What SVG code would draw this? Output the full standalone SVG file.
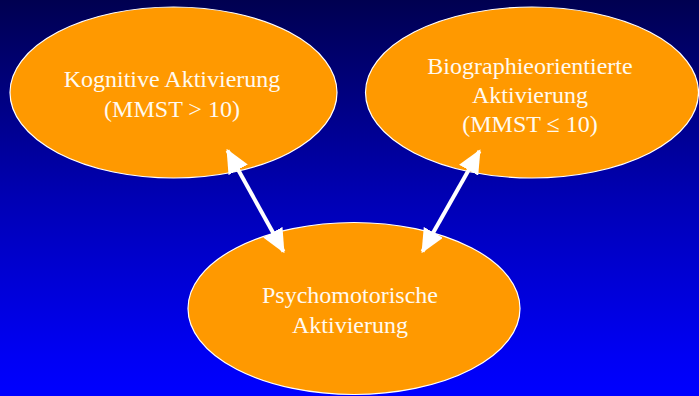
<svg xmlns="http://www.w3.org/2000/svg" width="699" height="396" viewBox="0 0 699 396">
<defs>
<linearGradient id="bg" x1="0" y1="0" x2="0" y2="1">
<stop offset="0" stop-color="#000050"/>
<stop offset="0.5" stop-color="#0000b4"/>
<stop offset="0.9" stop-color="#0000f4"/>
<stop offset="1" stop-color="#0000ff"/>
</linearGradient>
<marker id="ah" markerUnits="userSpaceOnUse" markerWidth="24" markerHeight="22" viewBox="0 0 24 22" refX="22" refY="11" orient="auto-start-reverse">
<path d="M0,0 L24,11 L0,22 z" fill="#ffffff"/>
</marker>
<style>
.node ellipse{fill:#ff9900;stroke:#ffffff;stroke-width:1.2}
.node text{font-family:"Liberation Serif","Times New Roman",serif;font-size:24px;fill:#fffaf0;text-anchor:middle}
.conn line{stroke:#ffffff;stroke-width:4;marker-start:url(#ah);marker-end:url(#ah)}
</style>
</defs>
<rect x="0" y="0" width="699" height="396" fill="url(#bg)"/>
<g id="kognitive" class="node">
<ellipse cx="173.5" cy="92.5" rx="163.5" ry="85.5"/>
<text x="172" y="87">Kognitive Aktivierung</text>
<text x="172" y="117">(MMST &gt; 10)</text>
</g>
<g id="biographie" class="node">
<ellipse cx="532" cy="92.5" rx="166.5" ry="85.5"/>
<text x="530" y="74">Biographieorientierte</text>
<text x="530" y="103">Aktivierung</text>
<text x="530" y="132">(MMST ≤ 10)</text>
</g>
<g id="psychomotorisch" class="node">
<ellipse cx="354" cy="308.5" rx="166" ry="86"/>
<text x="350" y="303">Psychomotorische</text>
<text x="350" y="333">Aktivierung</text>
</g>
<g id="connectors" class="conn">
<line x1="227.5" y1="150.5" x2="283.5" y2="251.5"/>
<line x1="479.5" y1="151" x2="422.5" y2="251.5"/>
</g>
</svg>
